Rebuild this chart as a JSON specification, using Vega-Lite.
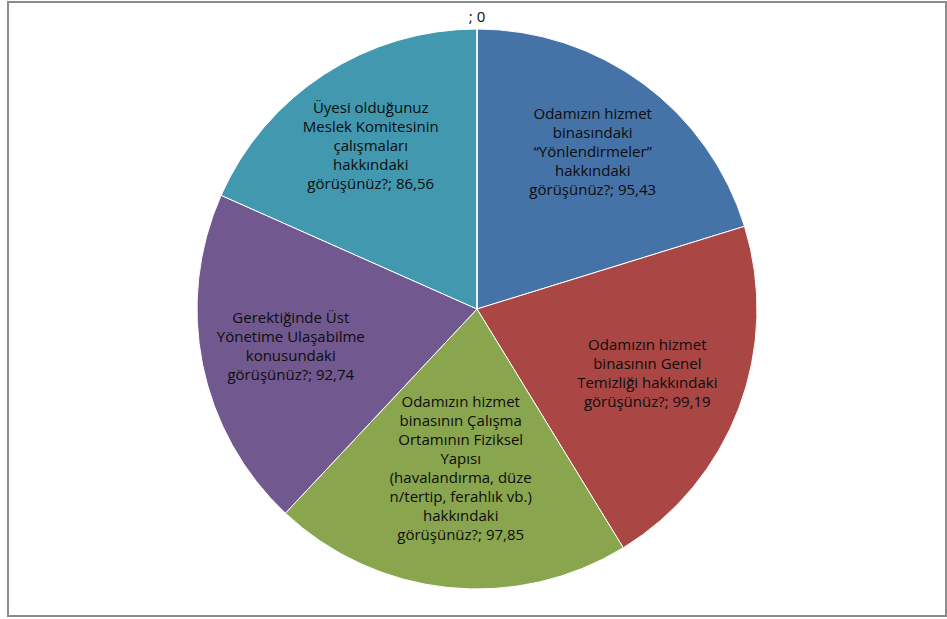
{
  "$schema": "https://vega.github.io/schema/vega-lite/v6.json",
  "width": 938,
  "height": 614,
  "autosize": "none",
  "padding": {"left": 8, "top": 2, "right": 1, "bottom": 3},
  "background": "white",
  "view": {"stroke": "#8c8c8c", "strokeWidth": 2},
  "config": {"view": {"stroke": "#8c8c8c", "strokeWidth": 2}},
  "data": {
    "values": [
      {"k": 1, "cat": "Yonlendirmeler", "value": 95.43, "label": "Odamızın hizmet\nbinasındaki\n“Yönlendirmeler”\nhakkındaki\ngörüşünüz?; 95,43"},
      {"k": 2, "cat": "Temizlik", "value": 99.19, "label": "Odamızın hizmet\nbinasının Genel\nTemizliği hakkındaki\ngörüşünüz?; 99,19"},
      {"k": 3, "cat": "Fiziksel", "value": 97.85, "label": "Odamızın hizmet\nbinasının Çalışma\nOrtamının Fiziksel\nYapısı\n(havalandırma, düze\nn/tertip, ferahlık vb.)\nhakkındaki\ngörüşünüz?; 97,85"},
      {"k": 4, "cat": "UstYonetim", "value": 92.74, "label": "Gerektiğinde Üst\nYönetime Ulaşabilme\nkonusundaki\ngörüşünüz?; 92,74"},
      {"k": 5, "cat": "MeslekKomitesi", "value": 86.56, "label": "Üyesi olduğunuz\nMeslek Komitesinin\nçalışmaları\nhakkındaki\ngörüşünüz?; 86,56"},
      {"k": 6, "cat": "zero", "value": 0, "label": "; 0"}
    ]
  },
  "encoding": {
    "theta": {"field": "value", "type": "quantitative", "stack": true},
    "order": {"field": "k", "type": "quantitative"}
  },
  "layer": [
    {
      "mark": {"type": "arc", "outerRadius": 280, "stroke": "white", "strokeWidth": 1},
      "encoding": {
        "color": {
          "field": "cat",
          "type": "nominal",
          "scale": {
            "domain": ["Yonlendirmeler", "Temizlik", "Fiziksel", "UstYonetim", "MeslekKomitesi", "zero"],
            "range": ["#4572A7", "#AA4643", "#89A54E", "#71588F", "#4198AF", "#ffffff"]
          },
          "legend": null
        }
      }
    },
    {
      "mark": {"type": "text", "radius": 195, "dy": -38, "font": "Open Sans", "fontSize": 15, "lineBreak": "\n", "lineHeight": 19, "align": "center", "baseline": "middle", "color": "#0d0d0d"},
      "encoding": {
        "detail": {"field": "cat", "type": "nominal"},
        "text": {"condition": {"test": "datum.cat == 'Yonlendirmeler'", "field": "label", "type": "nominal"}, "value": ""}
      }
    },
    {
      "mark": {"type": "text", "radius": 182, "dy": -28.5, "font": "Open Sans", "fontSize": 15, "lineBreak": "\n", "lineHeight": 19, "align": "center", "baseline": "middle", "color": "#0d0d0d"},
      "encoding": {
        "detail": {"field": "cat", "type": "nominal"},
        "text": {"condition": {"test": "datum.cat == 'Temizlik'", "field": "label", "type": "nominal"}, "value": ""}
      }
    },
    {
      "mark": {"type": "text", "radius": 160, "dy": -66.5, "font": "Open Sans", "fontSize": 15, "lineBreak": "\n", "lineHeight": 19, "align": "center", "baseline": "middle", "color": "#0d0d0d"},
      "encoding": {
        "detail": {"field": "cat", "type": "nominal"},
        "text": {"condition": {"test": "datum.cat == 'Fiziksel'", "field": "label", "type": "nominal"}, "value": ""}
      }
    },
    {
      "mark": {"type": "text", "radius": 190, "dy": -28.5, "font": "Open Sans", "fontSize": 15, "lineBreak": "\n", "lineHeight": 19, "align": "center", "baseline": "middle", "color": "#0d0d0d"},
      "encoding": {
        "detail": {"field": "cat", "type": "nominal"},
        "text": {"condition": {"test": "datum.cat == 'UstYonetim'", "field": "label", "type": "nominal"}, "value": ""}
      }
    },
    {
      "mark": {"type": "text", "radius": 195, "dy": -38, "font": "Open Sans", "fontSize": 15, "lineBreak": "\n", "lineHeight": 19, "align": "center", "baseline": "middle", "color": "#0d0d0d"},
      "encoding": {
        "detail": {"field": "cat", "type": "nominal"},
        "text": {"condition": {"test": "datum.cat == 'MeslekKomitesi'", "field": "label", "type": "nominal"}, "value": ""}
      }
    },
    {
      "mark": {"type": "text", "radius": 292, "font": "Open Sans", "fontSize": 15, "align": "center", "baseline": "middle", "color": "#0d0d0d"},
      "encoding": {
        "detail": {"field": "cat", "type": "nominal"},
        "text": {"condition": {"test": "datum.cat == 'zero'", "field": "label", "type": "nominal"}, "value": ""}
      }
    }
  ]
}
